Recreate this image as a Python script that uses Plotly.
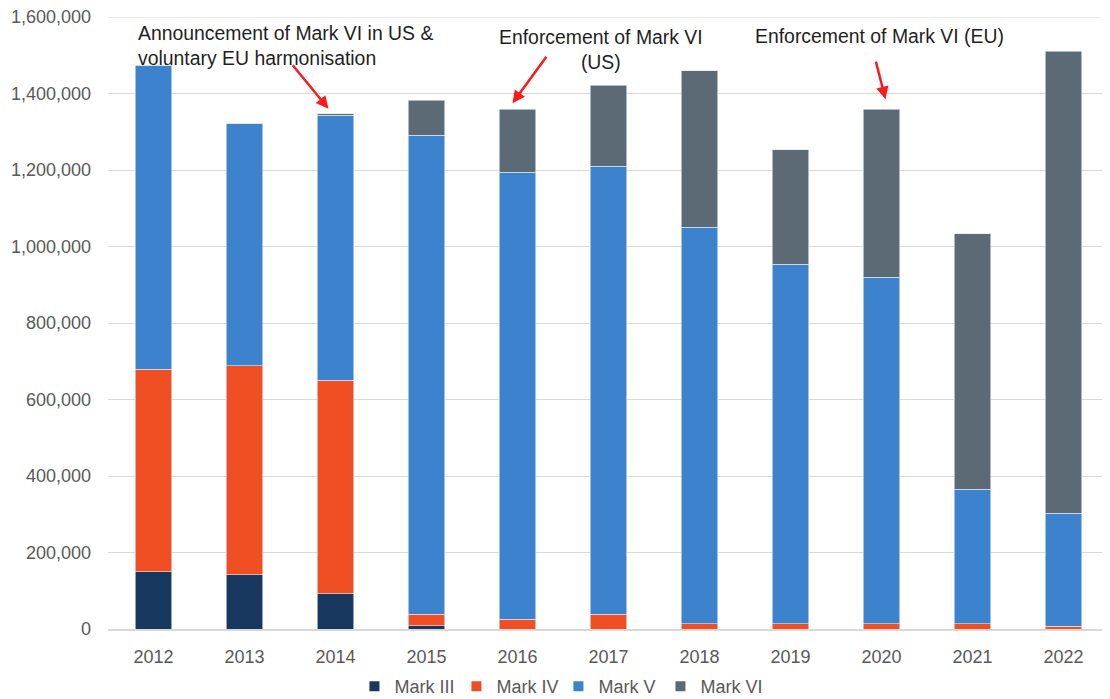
import plotly.graph_objects as go

# data (vehicle units by label standard)
YEARS = ['2012', '2013', '2014', '2015', '2016', '2017', '2018', '2019', '2020', '2021', '2022']
MARK_III = [150000, 142000, 92000, 9000, 0, 0, 0, 0, 0, 0, 0]
MARK_IV = [529000, 546000, 558000, 30000, 26000, 39000, 14000, 14000, 14000, 14000, 7000]
MARK_V = [795000, 633000, 693000, 1252000, 1168000, 1171000, 1036000, 939000, 905000, 352000, 296000]
MARK_VI = [0, 0, 4000, 92000, 165000, 211000, 410000, 300000, 440000, 668000, 1208000]
Y_MAX = 1600000

SERIES = [
    ('Mark III', MARK_III, '#17375E'),
    ('Mark IV', MARK_IV, '#F04F24'),
    ('Mark V', MARK_V, '#3D82CC'),
    ('Mark VI', MARK_VI, '#5B6A75'),
]

FONT = "Liberation Sans, Arial, Helvetica, sans-serif"

fig = go.Figure()
for name, vals, col in SERIES:
    fig.add_trace(go.Bar(
        x=YEARS, y=vals, name=name,
        marker=dict(color=col, line=dict(color='rgba(220,230,240,0.8)', width=0.8)),
        showlegend=False,
    ))
    # small square legend swatches like the original
    fig.add_trace(go.Scatter(
        x=[YEARS[0]], y=[None], mode='markers', name=name,
        marker=dict(symbol='square', size=10, color=col),
    ))

totals = [a + b + c + d for a, b, c, d in zip(MARK_III, MARK_IV, MARK_V, MARK_VI)]

# arrows pointing at the bar tops (x given as category index)
arrows = [
    ('2014', -7, 5, -37, -45),
    ('2016', -5, 6, 35, -48),
    ('2020', 4, 10, -10, -39),
]
for yr, xs, ys, ax, ay in arrows:
    i = YEARS.index(yr)
    fig.add_annotation(
        x=i, y=totals[i], xref='x', yref='y',
        xshift=xs, yshift=ys, ax=ax, ay=ay, text='',
        showarrow=True, arrowhead=2, arrowsize=1, arrowwidth=2.5, arrowcolor='#FF1A1A',
    )

txt_font = dict(family=FONT, size=19.4, color='#1F1F1F')
fig.add_annotation(
    x=0.028, y=0.954, xref='paper', yref='paper', xanchor='left', yanchor='middle',
    text='Announcement of Mark VI in US &<br>voluntary EU harmonisation',
    align='left', showarrow=False, font=txt_font,
)
fig.add_annotation(
    x=0.4925, y=0.947, xref='paper', yref='paper', xanchor='center', yanchor='middle',
    text='Enforcement of Mark VI<br>(US)', align='center', showarrow=False, font=txt_font,
)
fig.add_annotation(
    x=0.7712, y=0.969, xref='paper', yref='paper', xanchor='center', yanchor='middle',
    text='Enforcement of Mark VI (EU)', align='center', showarrow=False, font=txt_font,
)

# top gridline (plotly skips the one sitting on the plot edge)
fig.add_shape(type='line', xref='paper', yref='y', x0=0, x1=1, y0=Y_MAX, y1=Y_MAX,
              line=dict(color='#D9D9D9', width=1), layer='below')

# page body has an 8px margin, so the figure is 8px smaller each way
fig.update_layout(
    width=1102, height=691,
    barmode='stack', bargap=0.6,
    plot_bgcolor='white', paper_bgcolor='white',
    font=dict(family=FONT, size=18, color='#595959'),
    margin=dict(l=100, r=1, t=9, b=70, autoexpand=False),
    legend=dict(
        orientation='h', x=0.45, xanchor='center', y=-0.094, yanchor='middle',
        traceorder='normal', font=dict(size=18, color='#595959'),
        itemwidth=30, entrywidth=57,
    ),
    xaxis=dict(
        type='category', categoryorder='array', categoryarray=YEARS, range=[-0.5, len(YEARS) - 0.5],
        automargin=False, showgrid=False, showline=True, linecolor='#D9D9D9', linewidth=2,
        ticks='', ticklabelstandoff=10, tickfont=dict(size=18, color='#595959'),
    ),
    yaxis=dict(
        range=[0, Y_MAX], dtick=200000, tickformat=',', showgrid=True, automargin=False,
        gridcolor='#D9D9D9', gridwidth=1, zeroline=False, showline=False,
        ticks='', ticklabelstandoff=16, ticklabeloverflow='allow',
        tickfont=dict(size=18, color='#595959'),
    ),
)

fig.write_html("out.html")
